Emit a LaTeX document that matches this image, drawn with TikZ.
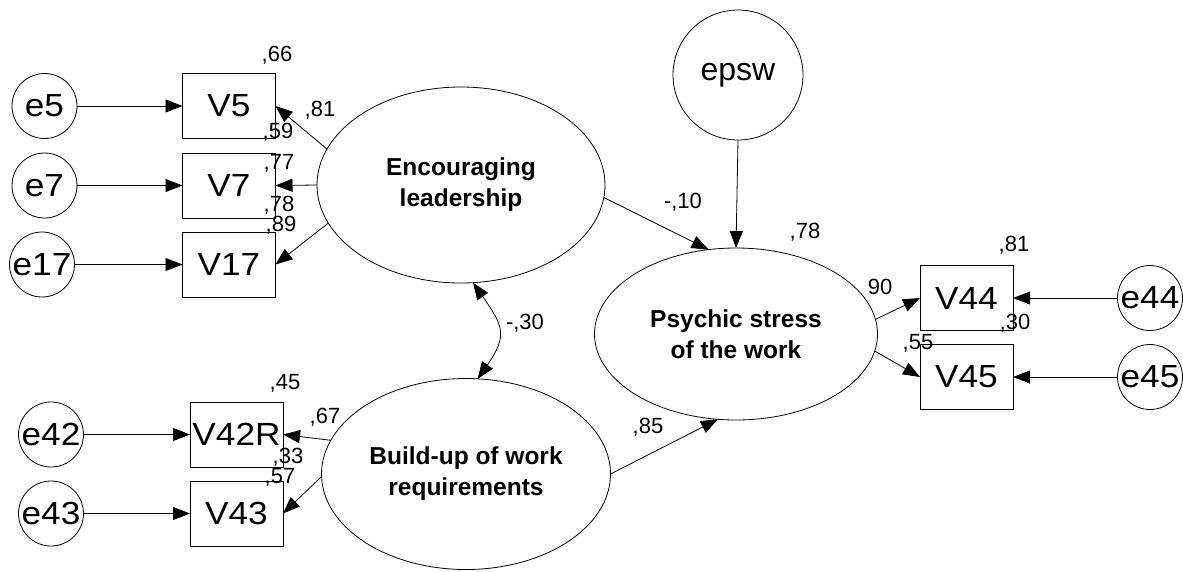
\documentclass[tikz,border=0pt]{standalone}
\usepackage{fontspec}
\usepackage{graphicx}
\setmainfont{Liberation Sans}
\usetikzlibrary{shapes.geometric,arrows.meta}
\newcommand{\widetxt}[1]{\scalebox{1.1}[1]{#1}}
\begin{document}
\begin{tikzpicture}[x=1pt,y=-1pt,
  every node/.style={inner sep=0pt, outer sep=0pt},
  obs/.style={draw, line width=0.8pt, minimum width=93pt, minimum height=65pt, font=\fontsize{32}{32}\selectfont},
  err/.style={draw, circle, line width=0.8pt, minimum size=65pt, font=\fontsize{32}{32}\selectfont},
  lat/.style={draw, ellipse, line width=0.8pt, align=center, font=\fontsize{24.5}{31}\selectfont\bfseries},
  lbl/.style={font=\fontsize{22}{22}\selectfont},
  arr/.style={line width=0.8pt, -{Triangle[length=17pt,width=13pt]}},
  darr/.style={line width=0.8pt, {Triangle[length=17pt,width=13pt]}-{Triangle[length=17pt,width=13pt]}},
]
\useasboundingbox (0,0) rectangle (1183,571);

% latent variables
\node[lat, minimum width=288pt, minimum height=196pt] (Enc) at (461,185) {Encouraging\\leadership};
\node[lat, minimum width=283pt, minimum height=172pt] (Psy) at (736,334) {Psychic stress\\of the work};
\node[lat, minimum width=289pt, minimum height=191pt] (Bld) at (466,474) {Build-up of work\\requirements};

% observed variables
\node[obs] (V5)   at (229,106)   {\widetxt{V5}};
\node[obs] (V7)   at (229,185.5) {\widetxt{V7}};
\node[obs] (V17)  at (229,264.5) {\widetxt{V17}};
\node[obs] (V42R) at (236.5,434.5) {\widetxt{V42R}};
\node[obs] (V43)  at (236.5,513.5) {\widetxt{V43}};
\node[obs] (V44)  at (966.5,298) {\widetxt{V44}};
\node[obs] (V45)  at (966.5,377) {\widetxt{V45}};

% error terms
\node[err] (e5)  at (44.5,106)   {\widetxt{e5}};
\node[err] (e7)  at (44.5,185.5) {\widetxt{e7}};
\node[err] (e17) at (42,264.5)   {\widetxt{e17}};
\node[err] (e42) at (51,434.5)   {\widetxt{e42}};
\node[err] (e43) at (51,513.5)   {\widetxt{e43}};
\node[err] (e44) at (1150,298)   {\widetxt{e44}};
\node[err] (e45) at (1150,377)   {\widetxt{e45}};
\node[err, minimum size=130pt] (epsw) at (738,75) {epsw};

% error arrows
\draw[arr] (e5) -- (V5);
\draw[arr] (e7) -- (V7);
\draw[arr] (e17) -- (V17);
\draw[arr] (e42) -- (V42R);
\draw[arr] (e43) -- (V43);
\draw[arr] (e44) -- (V44);
\draw[arr] (e45) -- (V45);
\draw[arr] (epsw.south) -- (Psy.north);

% loadings
\draw[arr] (Enc.165) -- (V5.east);
\draw[arr] (Enc.west) -- (V7.east);
\draw[arr] (Enc.196) -- (V17.east);
\draw[arr] (Bld.166) -- (V42R.east);
\draw[arr] (Bld.181) -- (V43.east);
\draw[arr] (Psy.6.5) -- (V44.west);
\draw[arr] (Psy.-7.5) -- (V45.west);

% structural paths
\draw[arr] (Enc.-5) -- (Psy.108.6);
\draw[arr] (Bld.0) -- (Psy.-102.5);
\draw[darr] (Enc.-83) to[out=-55, in=55, looseness=1.4] (Bld.83);

% labels
\node[lbl] (l66)  at (277,55)  {,66};
\node[lbl] (l59)  at (278,132) {,59};
\node[lbl] (l77)  at (279,163) {,77};
\node[lbl] (l78a) at (279,205) {,78};
\node[lbl] (l89)  at (281,225) {,89};
\node[lbl] (l81)  at (320,110) {,81};
\node[lbl] (l45)  at (285,383) {,45};
\node[lbl] (l67)  at (325,417) {,67};
\node[lbl] (l33)  at (288,457) {,33};
\node[lbl] (l57)  at (280,477) {,57};
\node[lbl] (l81b) at (1014,245) {,81};
\node[lbl] (l30)  at (1015,323) {,30};
\node[lbl] (l90)  at (880,287) {90};
\node[lbl] (l55)  at (918,343) {,55};
\node[lbl] (l78)  at (805,232) {,78};
\node[lbl] (lm10) at (683,202) {-,10};
\node[lbl] (l85)  at (648,427) {,85};
\node[lbl] (lm30) at (525,323) {-,30};
\end{tikzpicture}
\end{document}
